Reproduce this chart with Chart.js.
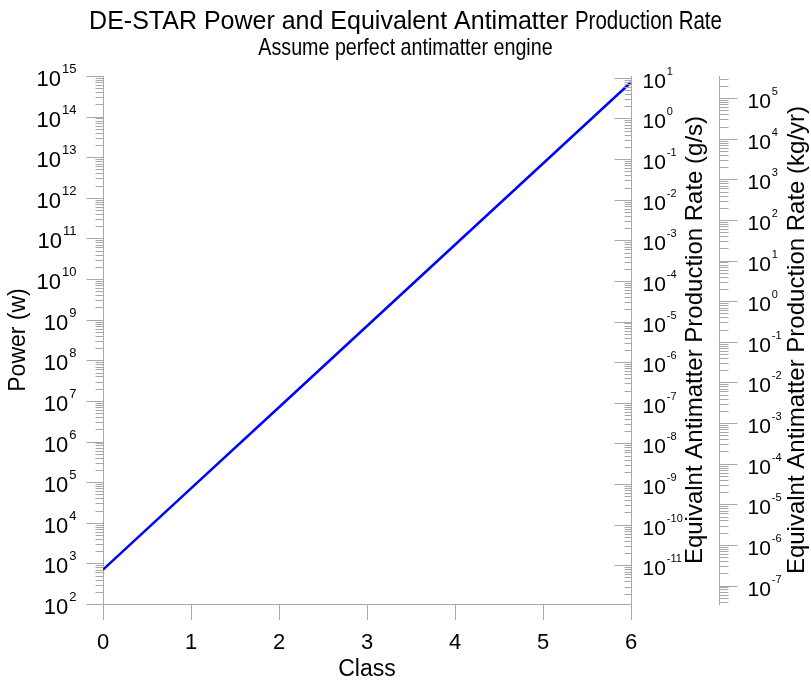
<!DOCTYPE html>
<html><head><meta charset="utf-8">
<script src="https://cdn.jsdelivr.net/npm/chart.js@4/dist/chart.umd.min.js"></script>
<style>html,body{margin:0;padding:0;background:#fff}#wrap{width:811px;height:683px}</style>
</head><body><div id="wrap"><canvas id="c" width="811" height="683"></canvas></div>
<script>
// ---- data ----
const classes = [0, 1, 2, 3, 4, 5, 6];
const powerW = [7e2, 7e4, 7e6, 7e8, 7e10, 7e12, 7e14];
const xTickValues = [0, 1, 2, 3, 4, 5, 6];
const powerTickExps = [2, 3, 4, 5, 6, 7, 8, 9, 10, 11, 12, 13, 14, 15];
const gsTickExps = [-11, -10, -9, -8, -7, -6, -5, -4, -3, -2, -1, 0, 1];
const kgyrTickExps = [-7, -6, -5, -4, -3, -2, -1, 0, 1, 2, 3, 4, 5];
const titleLine1a = 'DE-STAR Power and Equivalent Antimatter ';
const titleLine1b = 'Production Rate';
const titleLine2 = 'Assume perfect antimatter engine';
const xTitle = 'Class';
const yTitle = 'Power (w)';
const y2Title = 'Equivalnt Antimatter Production Rate (g/s)';
const y3Title = 'Equivalnt Antimatter Production Rate (kg/yr)';
const powerMin = 1e2, powerMax = 1e15;
// conversion: E = m c^2 ; g/s = W / c^2 * 1000 ; kg/yr = g/s * s_per_yr / 1000
const C_LIGHT = 2.998e8;
const GS_PER_W = 1000 / (C_LIGHT * C_LIGHT);
const KGYR_PER_GS = 3.15576e7 / 1000;

const FONT = "'Liberation Sans', Arial, sans-serif";
const AXIS_COLOR = '#a8a8a8';
const NARROW = 0.82;

function drawPow(ctx, exp, x, y, align, bs, es) {
  const base = '10', sup = String(exp);
  ctx.font = bs + 'px ' + FONT;
  const wb = ctx.measureText(base).width;
  ctx.font = es + 'px ' + FONT;
  const we = ctx.measureText(sup).width;
  const x0 = align === 'right' ? x - wb - we - 1 : x;
  ctx.textAlign = 'left';
  ctx.textBaseline = 'alphabetic';
  ctx.fillStyle = '#000';
  ctx.font = bs + 'px ' + FONT;
  ctx.fillText(base, x0, y + 10);
  ctx.font = es + 'px ' + FONT;
  ctx.fillText(sup, x0 + wb + 1, y - 3);
}

function drawParts(ctx, parts, cx, baseline) {
  const widths = parts.map(p => {
    ctx.font = p.size + 'px ' + FONT;
    return ctx.measureText(p.text).width * (p.narrow ? NARROW : 1);
  });
  const total = widths.reduce((a, b) => a + b, 0);
  let x = cx - total / 2;
  ctx.textAlign = 'left';
  ctx.textBaseline = 'alphabetic';
  ctx.fillStyle = '#000';
  parts.forEach((p, i) => {
    ctx.save();
    ctx.font = p.size + 'px ' + FONT;
    ctx.translate(x, baseline);
    ctx.scale(p.narrow ? NARROW : 1, 1);
    ctx.fillText(p.text, 0, 0);
    ctx.restore();
    x += widths[i];
  });
}

const axisDecor = {
  id: 'axisDecor',
  afterDraw(chart) {
    const ctx = chart.ctx;
    const defs = [
      { id: 'y', edge: 'right', dir: -1, major: 17, minor: 8, labelOff: -27, align: 'right', exps: powerTickExps, bs: 22, es: 13 },
      { id: 'y2', edge: 'left', dir: -1, major: 17, minor: 7, labelOff: 11, align: 'left', exps: gsTickExps, bs: 21, es: 11 },
      { id: 'y3', edge: 'left', dir: 1, major: 18, minor: 9, labelOff: 28, align: 'left', exps: kgyrTickExps, bs: 21, es: 11 }
    ];
    ctx.save();
    defs.forEach(d => {
      const s = chart.scales[d.id];
      const ax = Math.round(s[d.edge]) + 0.5;
      const lo = Math.floor(Math.log10(s.min)), hi = Math.ceil(Math.log10(s.max));
      ctx.strokeStyle = AXIS_COLOR;
      ctx.lineWidth = 1;
      ctx.beginPath();
      for (let e = lo; e <= hi; e++) {
        for (let m = 1; m <= 9; m++) {
          const v = m * Math.pow(10, e);
          if (v < s.min * 0.9999 || v > s.max * 1.0001) continue;
          const y = Math.round(s.getPixelForValue(v)) + 0.5;
          const len = m === 1 ? d.major : d.minor;
          ctx.moveTo(ax, y);
          ctx.lineTo(ax + d.dir * len, y);
        }
      }
      ctx.stroke();
      d.exps.forEach(e => {
        const y = s.getPixelForValue(Math.pow(10, e));
        drawPow(ctx, e, ax + d.labelOff, y, d.align, d.bs, d.es);
      });
    });
    // right-hand axis titles, reading bottom-to-top
    ctx.fillStyle = '#000';
    ctx.font = '24px ' + FONT;
    ctx.textAlign = 'center';
    ctx.textBaseline = 'alphabetic';
    const cy = (chart.chartArea.top + chart.chartArea.bottom) / 2;
    [[y2Title, chart.scales.y2.left + 71], [y3Title, chart.scales.y3.left + 85]].forEach(([t, x]) => {
      ctx.save();
      ctx.translate(x, cy);
      ctx.rotate(-Math.PI / 2);
      ctx.fillText(t, 0, 0);
      ctx.restore();
    });
    // chart title
    const cx = chart.width / 2;
    drawParts(ctx, [
      { text: titleLine1a, size: 25, narrow: false },
      { text: titleLine1b, size: 25, narrow: true }
    ], cx, 29);
    drawParts(ctx, [{ text: titleLine2, size: 24, narrow: true }], cx, 55);
    ctx.restore();
  }
};

new Chart(document.getElementById('c'), {
  type: 'line',
  data: {
    datasets: [{
      data: classes.map((c, i) => ({ x: c, y: powerW[i] })),
      borderColor: '#0000ff',
      borderWidth: 2.5,
      pointRadius: 0,
      fill: false,
      tension: 0,
      yAxisID: 'y'
    }]
  },
  options: {
    responsive: false,
    animation: false,
    devicePixelRatio: 1,
    layout: { padding: { left: 0, right: 0, top: 76, bottom: 0 } },
    plugins: {
      legend: { display: false },
      tooltip: { enabled: false },
      title: { display: false }
    },
    scales: {
      x: {
        type: 'linear', position: 'bottom', min: 0, max: 6,
        afterBuildTicks: s => { s.ticks = xTickValues.map(v => ({ value: v })); },
        ticks: { color: '#000', font: { family: FONT, size: 22 }, padding: 10, maxRotation: 0, autoSkip: false },
        grid: { drawOnChartArea: false, drawTicks: true, tickLength: 16, color: AXIS_COLOR, tickColor: AXIS_COLOR },
        border: { display: true, color: AXIS_COLOR },
        title: { display: true, text: xTitle, color: '#000', font: { family: FONT, size: 23 }, padding: { top: 0, bottom: 0 } },
        afterFit: s => { s.height = 79; }
      },
      y: {
        type: 'logarithmic', position: 'left', min: powerMin, max: powerMax,
        ticks: { display: false },
        grid: { display: false },
        border: { display: true, color: AXIS_COLOR },
        title: { display: true, text: yTitle, color: '#000', font: { family: FONT, size: 23 }, padding: { top: 5, bottom: 0 } },
        afterFit: s => { s.width = 103; }
      },
      y2: {
        type: 'logarithmic', position: 'right', weight: 0,
        min: powerMin * GS_PER_W, max: powerMax * GS_PER_W,
        ticks: { display: false },
        grid: { display: false },
        border: { display: true, color: AXIS_COLOR },
        afterFit: s => { s.width = 88; }
      },
      y3: {
        type: 'logarithmic', position: 'right', weight: 1,
        min: powerMin * GS_PER_W * KGYR_PER_GS, max: powerMax * GS_PER_W * KGYR_PER_GS,
        ticks: { display: false },
        grid: { display: false },
        border: { display: true, color: AXIS_COLOR },
        afterFit: s => { s.width = 92; }
      }
    }
  },
  plugins: [axisDecor]
});
</script>
</body></html>
